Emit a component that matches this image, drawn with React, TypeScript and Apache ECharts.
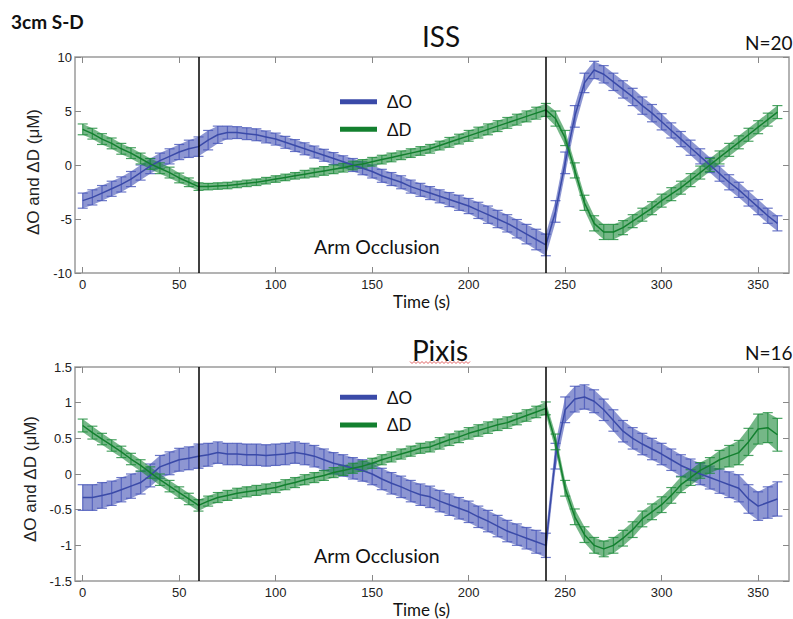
import React, { useEffect, useRef } from 'react';
import * as echarts from 'echarts';

// ---- Data (time in seconds, values in µM) ----
const TIME = [0, 5, 10, 15, 20, 25, 30, 35, 40, 45, 50, 55, 60, 65, 70, 75, 80, 85, 90, 95, 100, 105, 110, 115, 120, 125, 130, 135, 140, 145, 150, 155, 160, 165, 170, 175, 180, 185, 190, 195, 200, 205, 210, 215, 220, 225, 230, 235, 240, 245, 250, 255, 260, 265, 270, 275, 280, 285, 290, 295, 300, 305, 310, 315, 320, 325, 330, 335, 340, 345, 350, 355, 360];

const X_TICKS = [0, 50, 100, 150, 200, 250, 300, 350];
const EVENT_TIMES = [60, 240];

// ISS panel
const ISS_DO = [-3.3, -3.0, -2.6, -2.2, -1.8, -1.3, -0.7, -0.1, 0.4, 0.8, 1.2, 1.5, 1.7, 2.3, 2.8, 3.0, 3.0, 2.9, 2.8, 2.6, 2.4, 2.1, 1.8, 1.5, 1.2, 0.9, 0.6, 0.3, 0.0, -0.3, -0.6, -1.0, -1.3, -1.6, -2.0, -2.3, -2.6, -2.9, -3.2, -3.5, -3.8, -4.2, -4.6, -5.0, -5.4, -5.9, -6.4, -6.9, -7.4, -4.3, 0.2, 4.5, 7.6, 8.8, 8.4, 7.7, 7.0, 6.3, 5.5, 4.8, 4.0, 3.2, 2.4, 1.6, 0.8, 0.0, -0.8, -1.6, -2.3, -3.1, -3.9, -4.7, -5.4];
const ISS_DO_ERR = [0.7, 0.7, 0.7, 0.7, 0.7, 0.7, 0.7, 0.7, 0.7, 0.7, 0.7, 0.8, 0.9, 0.9, 0.8, 0.6, 0.55, 0.55, 0.55, 0.55, 0.55, 0.55, 0.55, 0.55, 0.55, 0.55, 0.55, 0.55, 0.6, 0.6, 0.6, 0.6, 0.6, 0.6, 0.6, 0.6, 0.6, 0.6, 0.65, 0.7, 0.7, 0.75, 0.8, 0.8, 0.8, 0.85, 0.9, 0.95, 1.0, 1.0, 1.0, 1.0, 0.9, 0.8, 0.8, 0.8, 0.8, 0.8, 0.8, 0.8, 0.75, 0.7, 0.7, 0.7, 0.7, 0.7, 0.7, 0.7, 0.7, 0.7, 0.7, 0.7, 0.7];
const ISS_DD = [3.3, 2.9, 2.4, 2.0, 1.5, 1.1, 0.6, 0.1, -0.3, -0.7, -1.2, -1.6, -2.0, -2.0, -1.95, -1.9, -1.8, -1.7, -1.6, -1.45, -1.3, -1.15, -1.0, -0.85, -0.7, -0.55, -0.4, -0.25, -0.05, 0.1, 0.3, 0.5, 0.7, 0.9, 1.1, 1.3, 1.5, 1.8, 2.1, 2.4, 2.7, 3.0, 3.3, 3.6, 3.9, 4.2, 4.5, 4.8, 5.1, 4.3, 2.5, -0.5, -3.5, -5.4, -6.2, -6.2, -5.8, -5.2, -4.6, -4.0, -3.3, -2.7, -2.1, -1.4, -0.7, 0.0, 0.7, 1.4, 2.1, 2.8, 3.5, 4.2, 4.9];
const ISS_DD_ERR = [0.5, 0.5, 0.5, 0.5, 0.5, 0.5, 0.5, 0.5, 0.5, 0.5, 0.45, 0.4, 0.35, 0.3, 0.3, 0.3, 0.3, 0.3, 0.3, 0.3, 0.3, 0.3, 0.3, 0.35, 0.4, 0.4, 0.4, 0.4, 0.4, 0.4, 0.4, 0.4, 0.4, 0.4, 0.4, 0.4, 0.4, 0.4, 0.45, 0.45, 0.5, 0.5, 0.5, 0.5, 0.5, 0.5, 0.5, 0.55, 0.6, 0.7, 0.7, 0.7, 0.7, 0.7, 0.7, 0.7, 0.65, 0.6, 0.6, 0.6, 0.6, 0.6, 0.6, 0.6, 0.6, 0.6, 0.6, 0.6, 0.6, 0.6, 0.6, 0.6, 0.6];

// Pixis panel
const PIX_DO = [-0.33, -0.33, -0.3, -0.27, -0.22, -0.17, -0.12, -0.02, 0.1, 0.15, 0.2, 0.22, 0.25, 0.27, 0.3, 0.28, 0.28, 0.27, 0.27, 0.26, 0.27, 0.28, 0.3, 0.28, 0.25, 0.2, 0.15, 0.12, 0.08, 0.05, 0.0, -0.07, -0.13, -0.18, -0.24, -0.29, -0.32, -0.38, -0.43, -0.48, -0.53, -0.6, -0.66, -0.73, -0.8, -0.85, -0.9, -0.95, -1.0, 0.25, 0.9, 1.05, 1.08, 1.02, 0.9, 0.75, 0.6, 0.5, 0.42, 0.35, 0.28, 0.2, 0.12, 0.06, 0.0, -0.05, -0.1, -0.15, -0.2, -0.35, -0.45, -0.4, -0.35];
const PIX_DO_ERR = [0.18, 0.18, 0.18, 0.17, 0.17, 0.17, 0.16, 0.16, 0.16, 0.16, 0.16, 0.16, 0.17, 0.16, 0.15, 0.15, 0.15, 0.15, 0.15, 0.15, 0.15, 0.15, 0.15, 0.15, 0.15, 0.15, 0.15, 0.15, 0.15, 0.15, 0.15, 0.15, 0.15, 0.15, 0.15, 0.15, 0.15, 0.15, 0.15, 0.15, 0.15, 0.15, 0.15, 0.15, 0.15, 0.15, 0.15, 0.16, 0.17, 0.18, 0.18, 0.18, 0.17, 0.16, 0.15, 0.15, 0.15, 0.15, 0.15, 0.15, 0.15, 0.15, 0.15, 0.15, 0.15, 0.16, 0.17, 0.18, 0.19, 0.2, 0.2, 0.22, 0.24];
const PIX_DD = [0.68, 0.58, 0.49, 0.4, 0.31, 0.21, 0.12, 0.02, -0.08, -0.17, -0.26, -0.35, -0.44, -0.38, -0.33, -0.3, -0.27, -0.25, -0.23, -0.21, -0.19, -0.15, -0.12, -0.08, -0.05, -0.02, 0.02, 0.05, 0.08, 0.11, 0.15, 0.2, 0.24, 0.28, 0.32, 0.36, 0.38, 0.43, 0.48, 0.52, 0.57, 0.61, 0.65, 0.69, 0.72, 0.77, 0.82, 0.87, 0.92, 0.45, -0.2, -0.6, -0.85, -1.0, -1.05, -1.0, -0.9, -0.78, -0.63, -0.53, -0.43, -0.3, -0.15, -0.05, 0.05, 0.12, 0.2, 0.25, 0.3, 0.45, 0.63, 0.65, 0.55];
const PIX_DD_ERR = [0.09, 0.09, 0.08, 0.08, 0.08, 0.08, 0.08, 0.08, 0.08, 0.08, 0.08, 0.08, 0.08, 0.07, 0.07, 0.07, 0.07, 0.07, 0.07, 0.07, 0.07, 0.07, 0.07, 0.07, 0.07, 0.07, 0.07, 0.07, 0.07, 0.07, 0.07, 0.07, 0.07, 0.07, 0.07, 0.07, 0.07, 0.08, 0.08, 0.08, 0.08, 0.08, 0.08, 0.08, 0.08, 0.08, 0.08, 0.08, 0.09, 0.11, 0.11, 0.11, 0.11, 0.11, 0.11, 0.11, 0.11, 0.11, 0.11, 0.11, 0.11, 0.11, 0.11, 0.11, 0.11, 0.11, 0.13, 0.15, 0.17, 0.19, 0.21, 0.21, 0.23];

const BLUE = '#3a4aa8';
const GREEN = '#13802f';
const BLUE_BAR = 'rgba(70,85,185,0.8)';
const GREEN_BAR = 'rgba(30,140,60,0.8)';
const BLUE_BAND = 'rgba(65,80,180,0.6)';
const GREEN_BAND = 'rgba(25,135,55,0.6)';

const SANS = '"Liberation Sans", Arial, Helvetica, sans-serif';
const CAL = 'Lato, "Open Sans", "Noto Sans", sans-serif';

function errorSeries(name: string, axisIdx: number, mean: number[], err: number[], color: string, band: string) {
  return {
    type: 'custom',
    name,
    xAxisIndex: axisIdx,
    yAxisIndex: axisIdx,
    silent: true,
    z: 2,
    data: TIME.map((t, i) => {
      const j = Math.min(i + 1, TIME.length - 1);
      return [t, mean[i], err[i], TIME[j], mean[j], err[j]];
    }),
    renderItem: (params: any, api: any) => {
      const x = api.value(0);
      const y = api.value(1);
      const e = api.value(2);
      const x2 = api.value(3);
      const y2 = api.value(4);
      const e2 = api.value(5);
      const top = api.coord([x, y + e]);
      const bot = api.coord([x, y - e]);
      const top2 = api.coord([x2, y2 + e2]);
      const bot2 = api.coord([x2, y2 - e2]);
      const hw = 5;
      const st = { stroke: color, lineWidth: 1.2 };
      const children: any[] = [];
      if (x2 > x) {
        children.push({
          type: 'polygon',
          shape: { points: [top, top2, bot2, bot] },
          style: { fill: band, stroke: null },
        });
      }
      children.push(
        { type: 'line', shape: { x1: top[0], y1: top[1], x2: bot[0], y2: bot[1] }, style: st },
        { type: 'line', shape: { x1: top[0] - hw, y1: top[1], x2: top[0] + hw, y2: top[1] }, style: st },
        { type: 'line', shape: { x1: bot[0] - hw, y1: bot[1], x2: bot[0] + hw, y2: bot[1] }, style: st },
      );
      return { type: 'group', children };
    },
  };
}

function meanSeries(name: string, axisIdx: number, mean: number[], color: string, withEvents: boolean) {
  const s: any = {
    type: 'line',
    name,
    xAxisIndex: axisIdx,
    yAxisIndex: axisIdx,
    color,
    showSymbol: false,
    symbol: 'none',
    z: 3,
    lineStyle: { color, width: 1.5 },
    data: TIME.map((t, i) => [t, mean[i]]),
  };
  if (withEvents) {
    s.markLine = {
      silent: true,
      symbol: 'none',
      label: { show: false },
      lineStyle: { color: '#000', width: 1.5, type: 'solid' },
      data: EVENT_TIMES.map((t) => ({ xAxis: t })),
      z: 5,
    };
  }
  return s;
}

function xAxes(gridIndex: number) {
  return [
    {
      gridIndex,
      type: 'value',
      min: -4,
      max: 366,
      position: 'bottom',
      axisLine: { show: false, onZero: false },
      splitLine: { show: false },
      axisTick: { show: true, inside: true, length: 6, customValues: X_TICKS, lineStyle: { color: '#888', width: 1 } },
      axisLabel: { customValues: X_TICKS, margin: 5, fontSize: 13, color: '#222', fontFamily: SANS },
      name: 'Time (s)',
      nameLocation: 'middle',
      nameGap: 20,
      nameTextStyle: { fontSize: 17, color: '#111', fontFamily: CAL, padding: [0, 21, 0, 0] },
    },
    {
      gridIndex,
      type: 'value',
      min: -4,
      max: 366,
      position: 'top',
      axisLine: { show: false, onZero: false },
      splitLine: { show: false },
      axisTick: { show: true, inside: true, length: 6, customValues: X_TICKS, lineStyle: { color: '#888', width: 1 } },
      axisLabel: { show: false },
    },
  ];
}

function yAxes(gridIndex: number, min: number, max: number, interval: number, shift: number) {
  return [
    {
      gridIndex,
      type: 'value',
      min,
      max,
      interval,
      position: 'left',
      axisLine: { show: false, onZero: false },
      splitLine: { show: false },
      axisTick: { show: true, inside: true, length: 6, lineStyle: { color: '#888', width: 1 } },
      axisLabel: { margin: 3, fontSize: 13, color: '#222', fontFamily: SANS },
      name: 'ΔO and ΔD (μM)',
      nameLocation: 'middle',
      nameGap: 22,
      nameTextStyle: { fontSize: 17, color: '#222', fontFamily: SANS, padding: [0, shift, 0, 0] },
    },
    {
      gridIndex,
      type: 'value',
      min,
      max,
      interval,
      position: 'right',
      axisLine: { show: false, onZero: false },
      splitLine: { show: false },
      axisTick: { show: true, inside: true, length: 6, lineStyle: { color: '#888', width: 1 } },
      axisLabel: { show: false },
    },
  ];
}

function legend(top: number) {
  return {
    top,
    left: 335,
    orient: 'vertical',
    icon: 'rect',
    itemWidth: 37,
    itemHeight: 5,
    itemGap: 9.6,
    selectedMode: false,
    data: ['ΔO', 'ΔD'],
    textStyle: { fontSize: 17, color: '#111', fontFamily: CAL, lineHeight: 18, padding: [0, 0, 0, 5] },
  };
}

function squiggle(x0: number, x1: number, y: number) {
  const pts: number[][] = [];
  let up = true;
  for (let x = x0; x <= x1; x += 2) {
    pts.push([x, up ? y - 1 : y + 1]);
    up = !up;
  }
  return pts;
}

export default function App() {
  const ref = useRef<HTMLDivElement>(null);
  useEffect(() => {
    if (!ref.current) return;
    const chart = echarts.init(ref.current, undefined, { renderer: 'svg' });
    const gridStyle = { show: true, borderColor: '#9a9a9a', borderWidth: 1.5, backgroundColor: 'transparent' };
    chart.setOption({
      animation: false,
      backgroundColor: '#fff',
      grid: [
        { left: 75, top: 57, width: 714, height: 216, ...gridStyle },
        { left: 75, top: 367, width: 714, height: 216, ...gridStyle },
      ],
      xAxis: [...xAxes(0), ...xAxes(1)],
      yAxis: [...yAxes(0, -10, 10, 5, 14), ...yAxes(1, -1.5, 1.5, 0.5, 10)],
      legend: [legend(87.7), legend(383.3)],
      series: [
        errorSeries('ISS ΔO err', 0, ISS_DO, ISS_DO_ERR, BLUE_BAR, BLUE_BAND),
        meanSeries('ΔO', 0, ISS_DO, BLUE, false),
        errorSeries('ISS ΔD err', 0, ISS_DD, ISS_DD_ERR, GREEN_BAR, GREEN_BAND),
        meanSeries('ΔD', 0, ISS_DD, GREEN, true),
        errorSeries('Pixis ΔO err', 2, PIX_DO, PIX_DO_ERR, BLUE_BAR, BLUE_BAND),
        meanSeries('ΔO', 2, PIX_DO, BLUE, false),
        errorSeries('Pixis ΔD err', 2, PIX_DD, PIX_DD_ERR, GREEN_BAR, GREEN_BAND),
        meanSeries('ΔD', 2, PIX_DD, GREEN, true),
      ],
      graphic: [
        { type: 'text', x: 11, y: 21, style: { text: '3cm S-D', fontSize: 19, fontWeight: 'bold', fontFamily: CAL, fill: '#111', align: 'left', verticalAlign: 'middle', textAlign: 'left', textVerticalAlign: 'middle' } },
        { type: 'text', x: 441, y: 36, style: { text: 'ISS', fontSize: 28, fontFamily: CAL, fill: '#111', align: 'center', verticalAlign: 'middle', textAlign: 'center', textVerticalAlign: 'middle' } },
        { type: 'text', x: 745, y: 42, style: { text: 'N=20', fontSize: 19, fontFamily: CAL, fill: '#111', align: 'left', verticalAlign: 'middle', textAlign: 'left', textVerticalAlign: 'middle' } },
        { type: 'text', x: 440, y: 350, style: { text: 'Pixis', fontSize: 28, fontFamily: CAL, fill: '#111', align: 'center', verticalAlign: 'middle', textAlign: 'center', textVerticalAlign: 'middle' } },
        { type: 'polyline', shape: { points: squiggle(410, 471, 362.5) }, style: { stroke: '#e06060', lineWidth: 1, fill: null } },
        { type: 'text', x: 745, y: 352, style: { text: 'N=16', fontSize: 19, fontFamily: CAL, fill: '#111', align: 'left', verticalAlign: 'middle', textAlign: 'left', textVerticalAlign: 'middle' } },
        { type: 'text', x: 314, y: 246, style: { text: 'Arm Occlusion', fontSize: 19.5, fontFamily: CAL, fill: '#111', align: 'left', verticalAlign: 'middle', textAlign: 'left', textVerticalAlign: 'middle' } },
        { type: 'text', x: 314, y: 555, style: { text: 'Arm Occlusion', fontSize: 19.5, fontFamily: CAL, fill: '#111', align: 'left', verticalAlign: 'middle', textAlign: 'left', textVerticalAlign: 'middle' } },
      ],
    });
    return () => chart.dispose();
  }, []);
  return <div ref={ref} style={{ position: 'fixed', left: 0, top: 0, width: 793, height: 619 }} />;
}
